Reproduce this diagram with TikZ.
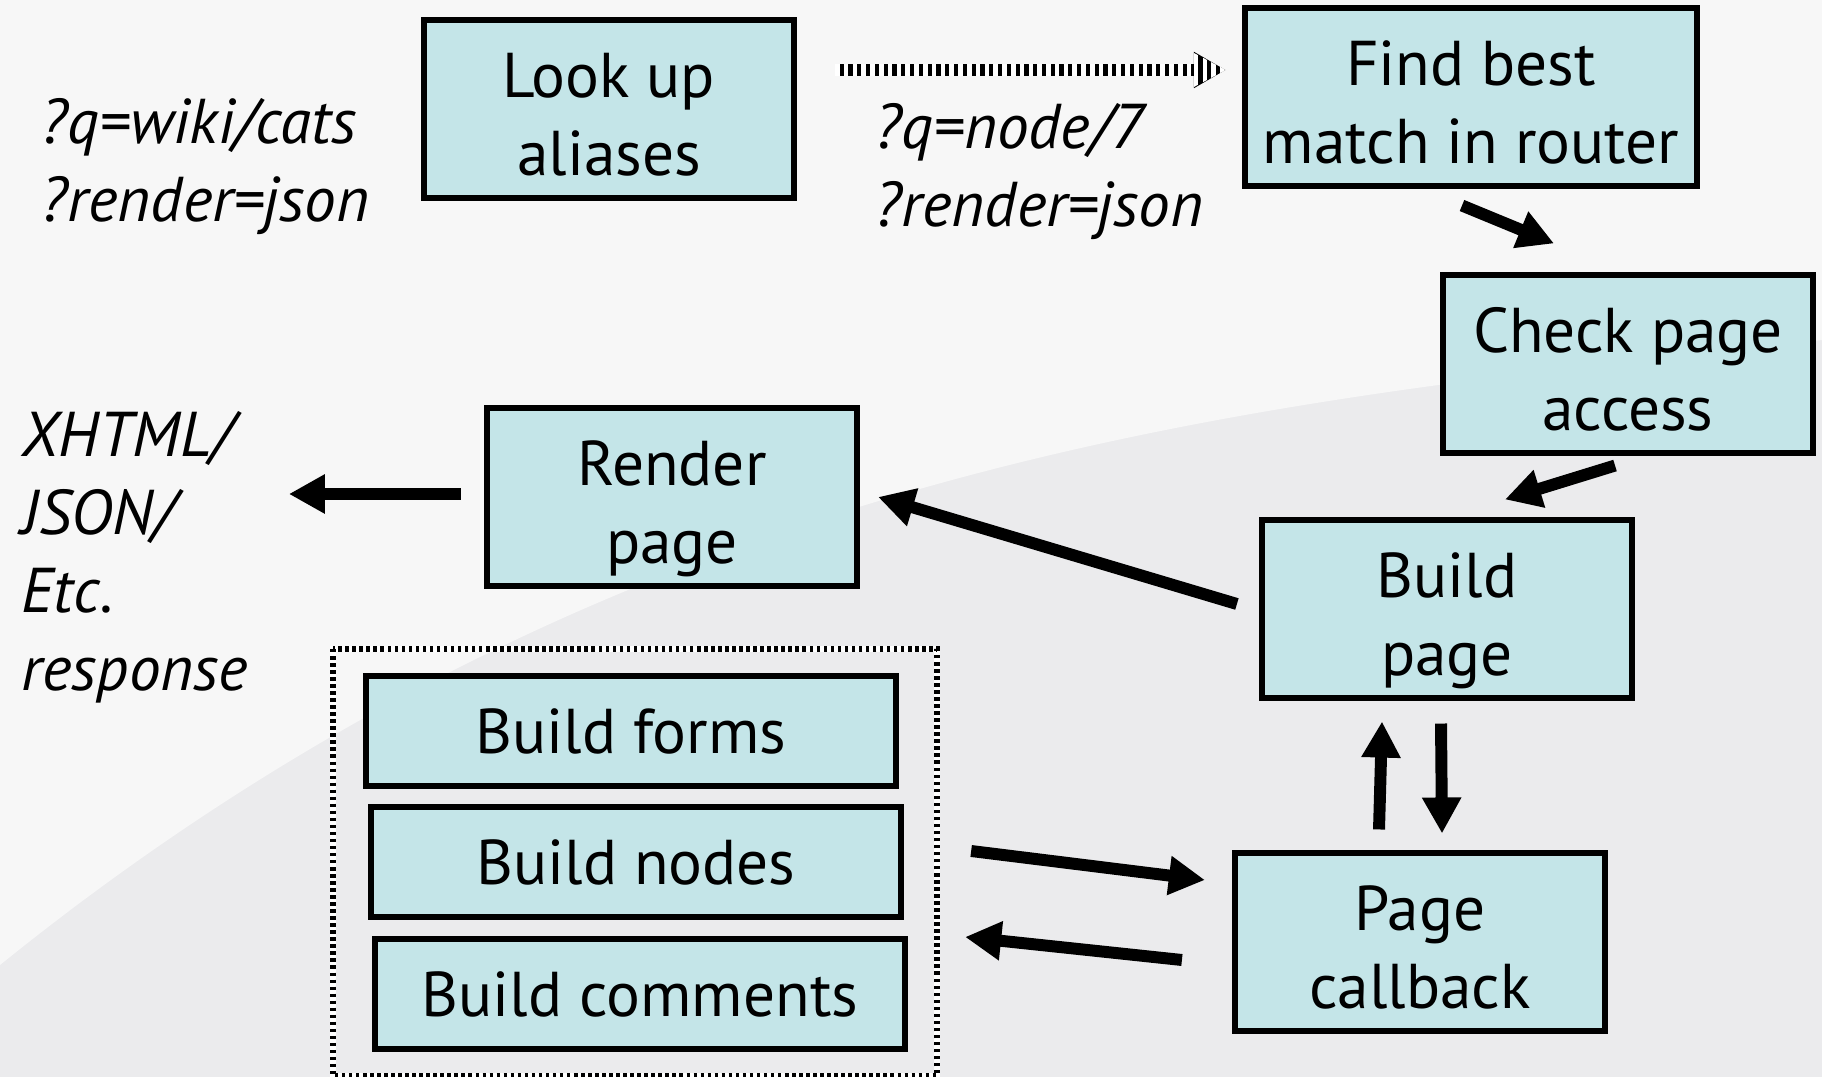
\documentclass[tikz,border=0pt]{standalone}
\usepackage{fontspec}
\setmainfont{PT Sans}
\usetikzlibrary{arrows.meta}
\definecolor{boxfill}{RGB}{196,229,232}
\definecolor{bgdark}{RGB}{235,235,237}
\definecolor{bglight}{RGB}{247,247,247}
\tikzset{
  stage/.style={draw, line width=1.7pt, fill=boxfill, align=center, inner sep=0pt,
    minimum width=3.7cm, minimum height=1.77cm, text height=1.33cm, text depth=0pt,
    font=\fontsize{18}{22.2}\selectfont},
  part/.style={draw, line width=1.7pt, fill=boxfill, inner sep=0pt,
    minimum width=5.3cm, minimum height=1.1cm, font=\fontsize{18}{22.2}\selectfont},
  flow/.style={line width=3.4pt, -{Triangle[length=0.36cm,width=0.37cm]}},
  hint/.style={line width=3.4pt, -{Triangle[length=0.32cm,width=0.34cm]}},
  stripe/.style={white, line width=3.4pt, dash pattern=on 1.3pt off 1.2pt},
  group/.style={line width=1.8pt, white},
  groupdash/.style={line width=1.8pt, dash pattern=on 1pt off 1pt},
  query/.style={align=left, anchor=west, inner sep=0pt, font=\fontsize{18}{22.2}\selectfont\itshape}
}
\begin{document}
\begin{tikzpicture}[x=0.01cm, y=-0.01cm]
% Background
\fill[bgdark] (0,0) rectangle (1822,1077);
\fill[bglight] (0,0) -- (1822,0) -- (1822,340) .. controls (1300,400) and (650,440) .. (0,965) -- cycle;
\useasboundingbox (0,0) rectangle (1822,1077);

% Stages
\node[stage] (alias) at (609,109) {Look up\\aliases};
\node[stage, minimum width=4.52cm] (router) at (1471,97) {Find best\\match in router};
\node[stage] (access) at (1628,364) {Check page\\access};
\node[stage] (render) at (672,497) {Render\\page};
\node[stage] (build) at (1447,609) {Build\\page};
\node[stage] (callback) at (1420,942) {Page\\callback};

% Builders
\node[part] (forms) at (631,731) {Build forms};
\node[part] (nodes) at (636,862) {Build nodes};
\node[part] (comments) at (640,994) {Build comments};
\draw[group] ([shift={(-30,-24)}]forms.north west) rectangle ([shift={(29,24)}]comments.south east);
\draw[groupdash] ([shift={(-30,-24)}]forms.north west) rectangle ([shift={(29,24)}]comments.south east);

% Requests and response
\node[query] (inq) at (41,167) {?q=wiki/cats\\?render=json};
\node[query] (outq) at (875,172) {?q=node/7\\?render=json};
\node[query] (resp) at (21,557) {XHTML/\\JSON/\\Etc.\\response};

% Striped alias arrow
\coordinate (hintA) at ([shift={(38,-39)}]alias.east);
\coordinate (hintB) at ([shift={(-16,-27)}]router.west);
\draw[hint] (hintA) -- (hintB);
\draw[stripe] (hintA) -- ([shift={(-32,0)}]hintB);
\begin{scope}
\clip ([shift={(-32,-17)}]hintB) -- (hintB) -- ([shift={(-32,17)}]hintB) -- cycle;
\draw[stripe, line width=0.36cm] ([shift={(-32,0)}]hintB) -- (hintB);
\end{scope}

% Arrows
\draw[flow] ([shift={(-9,17)}]router.south) -- ([shift={(-74,-29)}]access.north);
\draw[flow] ([shift={(-13,10)}]access.south) -- ([shift={(58,-18)}]build.north);
\draw[flow] ([shift={(-22,-5)}]build.west) -- ([shift={(18,0)}]render.east);
\draw[flow] ([shift={(-23,-3)}]render.west) -- ([shift={(-195,-3)}]render.west);
\draw[flow] ([shift={(-6,23)}]build.south) -- ([shift={(22,-17)}]callback.north);
\draw[flow] ([shift={(-41,-21)}]callback.north) -- ([shift={(-65,21)}]build.south);
\draw[flow] ([shift={(67,-11)}]nodes.east) -- ([shift={(-27,-62)}]callback.west);
\draw[flow] ([shift={(-50,18)}]callback.west) -- ([shift={(57,-57)}]comments.east);
\end{tikzpicture}
\end{document}
